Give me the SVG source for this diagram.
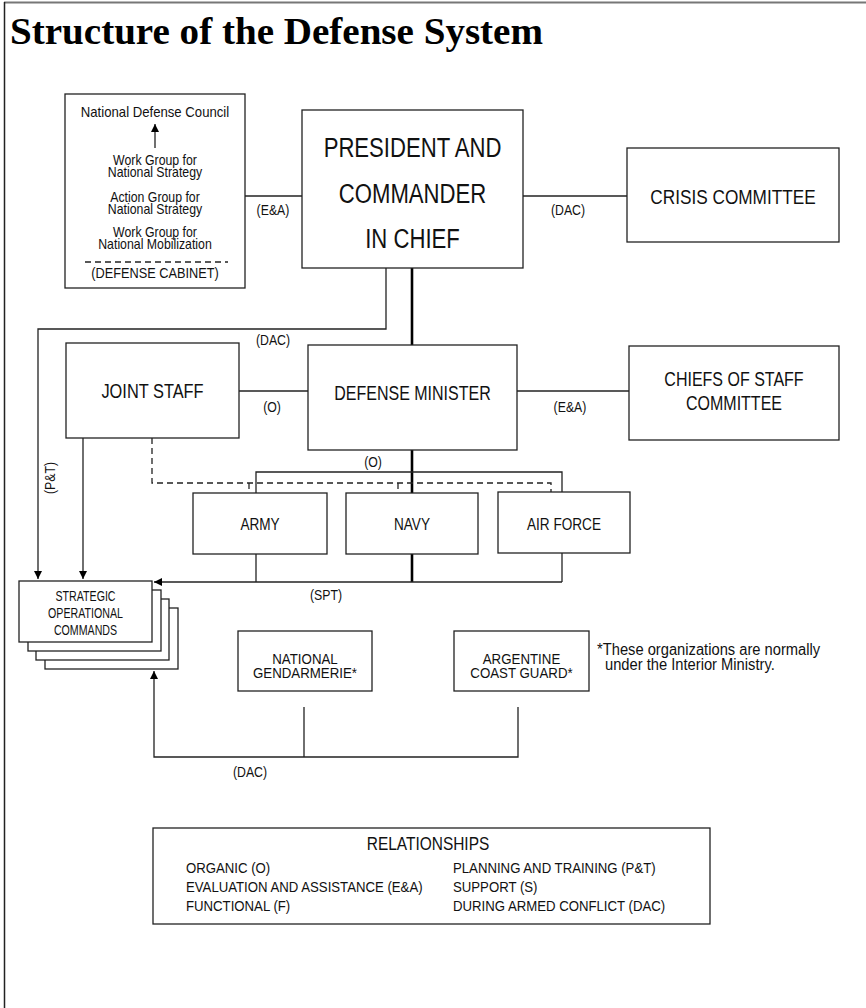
<svg xmlns="http://www.w3.org/2000/svg" width="866" height="1008" viewBox="0 0 866 1008">
<defs>
<style>
.box{fill:#fff;stroke:#222;stroke-width:1.3}
.ln{fill:none;stroke:#222;stroke-width:1.3}
.thick{fill:none;stroke:#000;stroke-width:2.6}
.dash{fill:none;stroke:#222;stroke-width:1.3;stroke-dasharray:6 4}
.t{font-family:"Liberation Sans",Arial,sans-serif;fill:#111;text-anchor:middle}
.l{text-anchor:start}
.s{font-size:15px}
.title{font-family:"Liberation Serif","Times New Roman",serif;font-weight:bold;font-size:38px;fill:#000}
</style>
<marker id="arr" viewBox="0 0 10 10" refX="10" refY="5" markerWidth="8" markerHeight="8" markerUnits="userSpaceOnUse" orient="auto">
<path d="M0,0 L10,5 L0,10 z" fill="#000"/>
</marker>
</defs>
<rect width="866" height="1008" fill="#fff"/>
<line x1="4" y1="2.5" x2="866" y2="2.5" stroke="#777" stroke-width="2"/>
<line x1="4.5" y1="2" x2="4.5" y2="1008" stroke="#222" stroke-width="1.5"/>
<text class="title" x="10" y="44" textLength="533" lengthAdjust="spacingAndGlyphs">Structure of the Defense System</text>

<g id="connectors">
<line class="ln" x1="245" y1="196" x2="302" y2="196"/>
<line class="ln" x1="523" y1="196" x2="627" y2="196"/>
<polyline class="ln" points="386,268 386,329 38,329 38,579" marker-end="url(#arr)"/>
<line class="thick" x1="412" y1="268" x2="412" y2="345"/>
<line class="ln" x1="239" y1="391" x2="308" y2="391"/>
<line class="ln" x1="517" y1="391" x2="629" y2="391"/>
<line class="thick" x1="412" y1="450" x2="412" y2="493"/>
<polyline class="ln" points="256,493 256,472 562,472 562,492"/>
<polyline class="dash" points="152,438 152,483 551,483 551,492"/>
<line class="ln" x1="249" y1="483" x2="249" y2="489"/>
<line class="ln" x1="398" y1="483" x2="398" y2="489"/>
<line class="ln" x1="83" y1="438" x2="83" y2="579" marker-end="url(#arr)"/>
<line class="ln" x1="256" y1="554" x2="256" y2="582"/>
<line class="thick" x1="412" y1="554" x2="412" y2="582"/>
<line class="ln" x1="562" y1="553" x2="562" y2="582"/>
<line class="ln" x1="562" y1="582" x2="154" y2="582" marker-end="url(#arr)"/>
<polyline class="ln" points="518,707 518,757 154,757 154,671" marker-end="url(#arr)"/>
<line class="ln" x1="304" y1="707" x2="304" y2="757"/>
<text class="t s" transform="translate(273,215) scale(.82,1)">(E&amp;A)</text>
<text class="t s" transform="translate(568,215) scale(.82,1)">(DAC)</text>
<text class="t s" transform="translate(273,345) scale(.82,1)">(DAC)</text>
<text class="t s" transform="translate(272,412) scale(.82,1)">(O)</text>
<text class="t s" transform="translate(570,412) scale(.82,1)">(E&amp;A)</text>
<text class="t s" transform="translate(373,467) scale(.82,1)">(O)</text>
<text class="t s" transform="translate(326,600) scale(.82,1)">(SPT)</text>
<text class="t s" transform="translate(250,777) scale(.82,1)">(DAC)</text>
<text class="t s" transform="translate(55,478) rotate(-90) scale(.82,1)">(P&amp;T)</text>
</g>

<g id="ndc">
<rect class="box" x="65" y="94" width="180" height="194"/>
<text class="t" transform="translate(155,117) scale(.94,1)" font-size="14">National Defense Council</text>
<line class="ln" x1="155" y1="148" x2="155" y2="124" marker-end="url(#arr)"/>
<text class="t" transform="translate(155,165) scale(.88,1)" font-size="14">Work Group for</text>
<text class="t" transform="translate(155,177) scale(.88,1)" font-size="14">National Strategy</text>
<text class="t" transform="translate(155,202) scale(.88,1)" font-size="14">Action Group for</text>
<text class="t" transform="translate(155,214) scale(.88,1)" font-size="14">National Strategy</text>
<text class="t" transform="translate(155,237) scale(.88,1)" font-size="14">Work Group for</text>
<text class="t" transform="translate(155,249) scale(.88,1)" font-size="14">National Mobilization</text>
<line class="dash" x1="85" y1="262" x2="228" y2="262"/>
<text class="t" transform="translate(155,278) scale(.88,1)" font-size="14.5">(DEFENSE CABINET)</text>
</g>

<g id="president">
<rect class="box" x="302" y="110" width="221" height="158"/>
<text class="t" transform="translate(412.5,157) scale(.79,1)" font-size="28">PRESIDENT AND</text>
<text class="t" transform="translate(412.5,203) scale(.79,1)" font-size="28">COMMANDER</text>
<text class="t" transform="translate(412.5,248) scale(.79,1)" font-size="28">IN CHIEF</text>
</g>

<g id="crisis">
<rect class="box" x="627" y="148" width="212" height="94"/>
<text class="t" transform="translate(733,204) scale(.84,1)" font-size="20.5">CRISIS COMMITTEE</text>
</g>

<g id="joint-staff">
<rect class="box" x="66" y="343" width="173" height="95"/>
<text class="t" transform="translate(152.5,398) scale(.78,1)" font-size="21">JOINT STAFF</text>
</g>

<g id="defense-minister">
<rect class="box" x="308" y="345" width="209" height="105"/>
<text class="t" transform="translate(412.5,400) scale(.8,1)" font-size="20">DEFENSE MINISTER</text>
</g>

<g id="chiefs">
<rect class="box" x="629" y="346" width="210" height="94"/>
<text class="t" transform="translate(734,386) scale(.8,1)" font-size="20">CHIEFS OF STAFF</text>
<text class="t" transform="translate(734,410) scale(.8,1)" font-size="20">COMMITTEE</text>
</g>

<g id="army">
<rect class="box" x="193" y="493" width="134" height="61"/>
<text class="t" transform="translate(260,530) scale(.8,1)" font-size="17">ARMY</text>
</g>
<g id="navy">
<rect class="box" x="346" y="493" width="132" height="61"/>
<text class="t" transform="translate(412,530) scale(.8,1)" font-size="17">NAVY</text>
</g>
<g id="air-force">
<rect class="box" x="498" y="492" width="132" height="61"/>
<text class="t" transform="translate(564,530) scale(.8,1)" font-size="17">AIR FORCE</text>
</g>

<g id="soc">
<rect class="box" x="45" y="608" width="133" height="61"/>
<rect class="box" x="36" y="599" width="133" height="61"/>
<rect class="box" x="28" y="590" width="133" height="61"/>
<rect class="box" x="19" y="581" width="133" height="61"/>
<text class="t" transform="translate(85.5,601) scale(.76,1)" font-size="14">STRATEGIC</text>
<text class="t" transform="translate(85.5,618) scale(.76,1)" font-size="14">OPERATIONAL</text>
<text class="t" transform="translate(85.5,635) scale(.76,1)" font-size="14">COMMANDS</text>
</g>

<g id="gendarmerie">
<rect class="box" x="238" y="631" width="134" height="60"/>
<text class="t" transform="translate(305,664) scale(.95,1)" font-size="14">NATIONAL</text>
<text class="t" transform="translate(305,678) scale(.95,1)" font-size="14">GENDARMERIE*</text>
</g>
<g id="coast-guard">
<rect class="box" x="454" y="631" width="135" height="60"/>
<text class="t" transform="translate(521.5,664) scale(.95,1)" font-size="14">ARGENTINE</text>
<text class="t" transform="translate(521.5,678) scale(.95,1)" font-size="14">COAST GUARD*</text>
</g>

<g id="footnote">
<text class="t l" transform="translate(597,655) scale(.92,1)" font-size="16">*These organizations are normally</text>
<text class="t l" transform="translate(605,670) scale(.92,1)" font-size="16">under the Interior Ministry.</text>
</g>

<g id="legend">
<rect class="box" x="153" y="828" width="557" height="96"/>
<text class="t" transform="translate(428,850) scale(.86,1)" font-size="18">RELATIONSHIPS</text>
<text class="t l" transform="translate(186,873) scale(.88,1)" font-size="15">ORGANIC (O)</text>
<text class="t l" transform="translate(186,892) scale(.88,1)" font-size="15">EVALUATION AND ASSISTANCE (E&amp;A)</text>
<text class="t l" transform="translate(186,911) scale(.88,1)" font-size="15">FUNCTIONAL (F)</text>
<text class="t l" transform="translate(453,873) scale(.88,1)" font-size="15">PLANNING AND TRAINING (P&amp;T)</text>
<text class="t l" transform="translate(453,892) scale(.88,1)" font-size="15">SUPPORT (S)</text>
<text class="t l" transform="translate(453,911) scale(.88,1)" font-size="15">DURING ARMED CONFLICT (DAC)</text>
</g>
</svg>
